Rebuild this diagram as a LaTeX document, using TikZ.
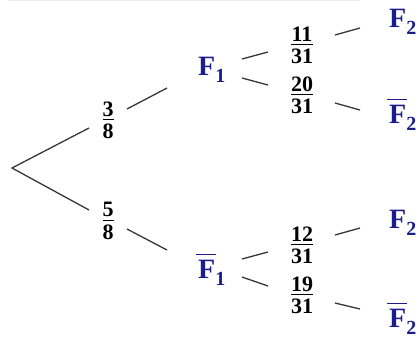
\documentclass[tikz,border=0pt]{standalone}
\usepackage{fontspec}
\usepackage{amsmath}
\setmainfont{Liberation Serif}
\definecolor{navy}{RGB}{28,28,140}
\definecolor{branch}{RGB}{55,55,55}
\newcommand\subs[1]{\raisebox{-7pt}{\fontsize{20}{20}\selectfont #1}}
\newcommand\barF{\makebox[0pt][l]{\hspace{-2pt}\rule[23pt]{20pt}{1.4pt}}F}
\newcommand\fr[2]{$\genfrac{}{}{1.3pt}{1}{\mbox{#1}\rule[-1.8pt]{0pt}{2pt}}{\mbox{\rule{0pt}{16.6pt}#2}}$}
\tikzset{
  br/.style={draw=branch, line width=1.3pt},
  lab/.style={text=navy, font=\fontsize{28}{28}\selectfont\bfseries, inner sep=0pt, anchor=base west},
  frac/.style={font=\fontsize{22}{22}\selectfont\bfseries, inner sep=0pt},
}
\begin{document}
\begin{tikzpicture}[x=1pt,y=-1pt]
\useasboundingbox (0,0) rectangle (420,338);
\draw[black!8, line width=1pt] (8,0.8) -- (360,0.8);
% nodes
\coordinate (root) at (12,168);
\node[frac] (p1) at (108,120) {\fr{3}{8}};
\node[frac] (p2) at (108,221) {\fr{5}{8}};
\node[lab] (a1) at (198,75) {F\subs{1}};
\node[lab] (a2) at (198,278) {\barF\subs{1}};
\node[frac] (q1) at (302,45) {\fr{11}{31}};
\node[frac] (q2) at (302,95) {\fr{20}{31}};
\node[frac] (q3) at (302,245) {\fr{12}{31}};
\node[frac] (q4) at (302,295) {\fr{19}{31}};
\node[lab] (b1) at (389,27) {F\subs{2}};
\node[lab] (b2) at (389,123) {\barF\subs{2}};
\node[lab] (b3) at (389,228) {F\subs{2}};
\node[lab] (b4) at (389,327) {\barF\subs{2}};
% connector ends
\coordinate (p1w) at (89,128);   \coordinate (p2w) at (89,210);
\coordinate (p1e) at (127,109);  \coordinate (a1w) at (167,88);
\coordinate (p2e) at (127,229);  \coordinate (a2w) at (167,250);
\coordinate (a1u) at (242,59);   \coordinate (q1w) at (268,52);
\coordinate (a1d) at (242,78);   \coordinate (q2w) at (268,85);
\coordinate (a2u) at (242,259);  \coordinate (q3w) at (268,252);
\coordinate (a2d) at (242,277);  \coordinate (q4w) at (268,286);
\coordinate (q1e) at (335,35);   \coordinate (b1w) at (360,28);
\coordinate (q2e) at (335,103);  \coordinate (b2w) at (360,110);
\coordinate (q3e) at (335,235);  \coordinate (b3w) at (360,228);
\coordinate (q4e) at (335,303);  \coordinate (b4w) at (360,309);
% connectors
\draw[br] (p1w) -- (root) -- (p2w);
\draw[br] (p1e) -- (a1w);
\draw[br] (p2e) -- (a2w);
\draw[br] (a1u) -- (q1w);
\draw[br] (a1d) -- (q2w);
\draw[br] (a2u) -- (q3w);
\draw[br] (a2d) -- (q4w);
\draw[br] (q1e) -- (b1w);
\draw[br] (q2e) -- (b2w);
\draw[br] (q3e) -- (b3w);
\draw[br] (q4e) -- (b4w);
\end{tikzpicture}
\end{document}
